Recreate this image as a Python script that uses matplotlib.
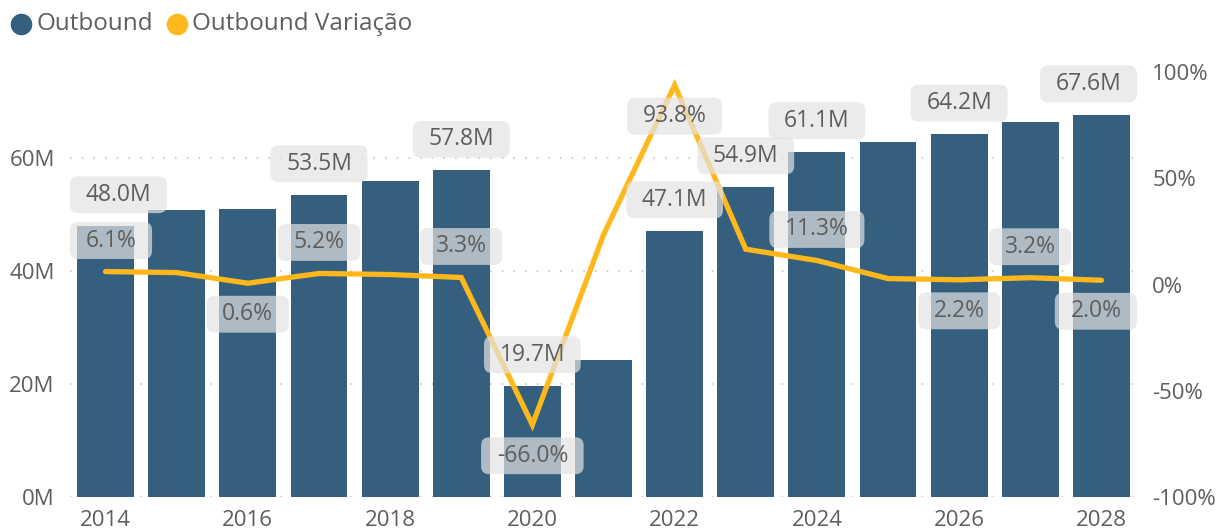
import matplotlib.pyplot as plt
from matplotlib.lines import Line2D
from matplotlib.patches import BoxStyle

plt.rcParams['font.family'] = ['Open Sans', 'DejaVu Sans']

years = list(range(2014, 2029))
outbound = [48.0, 50.7, 51.0, 53.5, 56.0, 57.8, 19.7, 24.3, 47.1, 54.9, 61.1, 62.8, 64.2, 66.3, 67.6]
variacao = [6.1, 5.6, 0.6, 5.2, 4.7, 3.3, -66.0, 23.4, 93.8, 16.6, 11.3, 2.8, 2.2, 3.2, 2.0]

# which points get a data label
bar_label_years = [2014, 2017, 2019, 2020, 2022, 2023, 2024, 2026, 2028]
var_above_years = [2014, 2017, 2019, 2024, 2027]
var_below_years = [2016, 2020, 2022, 2026, 2028]

left_ticks = [0, 20, 40, 60]
right_ticks = [100, 50, 0, -50, -100]

bar_color = '#345F7E'
line_color = '#FFB81C'
text_color = '#605E5C'
W, H = 1217, 531


def label_box(x0, y0, width, height, mutation_size):
    # rounded box, wider than tall like the Power BI labels
    padx = 0.68 * mutation_size
    pady = 0.28 * mutation_size
    return BoxStyle.Round(pad=0, rounding_size=0.35)(
        x0 - padx, y0 - pady, width + 2 * padx, height + 2 * pady, mutation_size)


fig = plt.figure(figsize=(W / 100, H / 100), dpi=100)
ax = fig.add_axes([70 / W, 34 / H, 1067 / W, 425 / H])

xs = list(range(len(years)))
ax.bar(xs, outbound, width=0.8, color=bar_color, zorder=2)
ax.set_xlim(-0.5, len(years) - 0.5)
ax.set_ylim(0, 75.2)
ax.set_yticks(left_ticks)
ax.set_yticklabels([f'{v}M' for v in left_ticks])
ax.set_xticks(xs[::2])
ax.set_xticklabels([str(y) for y in years[::2]])
ax.yaxis.grid(True, linestyle=(0, (1, 6)), color='#C8C6C4', linewidth=1.2)
ax.set_axisbelow(True)
ax.tick_params(axis='y', length=0, labelsize=16, labelcolor=text_color, pad=11)
ax.tick_params(axis='x', length=0, labelsize=16, labelcolor=text_color, pad=9)

ax2 = ax.twinx()
ax2.plot(xs, variacao, color=line_color, lw=3.8, solid_joinstyle='miter',
         solid_capstyle='round', zorder=3)
ax2.set_ylim(-100, 100)
ax2.set_yticks(right_ticks)
ax2.set_yticklabels([f'{v}%' for v in right_ticks])
ax2.tick_params(axis='y', length=0, labelsize=16, labelcolor=text_color, pad=11)

for a in (ax, ax2):
    for s in a.spines.values():
        s.set_visible(False)

box = dict(boxstyle=label_box, fc='#E3E3E3', ec='none', alpha=0.7)
anns = []
for i, y in enumerate(years):
    if y in bar_label_years:
        anns.append(ax2.annotate(f'{outbound[i]:.1f}M', xy=(i, outbound[i]), xycoords=ax.transData,
                                 xytext=(0, 31), textcoords='offset pixels', ha='center', va='center',
                                 fontsize=16.5, color=text_color, bbox=box, zorder=5))
    if y in var_above_years or y in var_below_years:
        dy = 31 if y in var_above_years else -31
        anns.append(ax2.annotate(f'{variacao[i]:.1f}%', xy=(i, variacao[i]),
                                 xytext=(0, dy), textcoords='offset pixels', ha='center', va='center',
                                 fontsize=16.5, color=text_color, bbox=box, zorder=5))

# legend
fig.add_artist(Line2D([21 / W], [1 - 24 / H], marker='o', ms=14.5, color=bar_color,
                      transform=fig.transFigure))
fig.text(36 / W, 1 - 24 / H, 'Outbound', va='center', ha='left', fontsize=17.5, color=text_color)
fig.add_artist(Line2D([177 / W], [1 - 24 / H], marker='o', ms=14.5, color=line_color,
                      transform=fig.transFigure))
fig.text(192 / W, 1 - 24 / H, 'Outbound Variação', va='center', ha='left', fontsize=17.5, color=text_color)

# keep the labels inside the plot area
fig.canvas.draw()
r = fig.canvas.get_renderer()
axbb = ax.get_window_extent(r)
for a in anns:
    bb = a.get_bbox_patch().get_window_extent(r)
    dx, dy = a.xyann
    if bb.x0 < axbb.x0:
        a.xyann = (dx + axbb.x0 - bb.x0, dy)
    elif bb.x1 > axbb.x1:
        a.xyann = (dx - (bb.x1 - axbb.x1), dy)

fig.savefig('out.png', dpi=100)
